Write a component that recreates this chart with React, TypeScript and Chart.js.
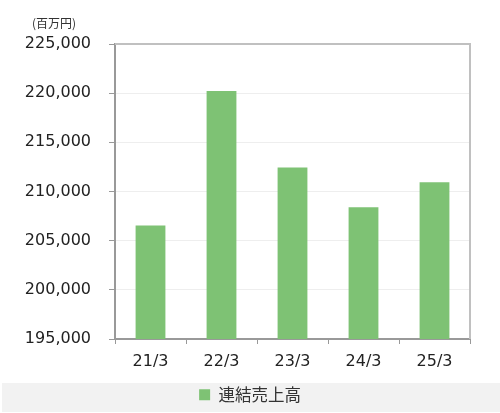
import React, { useEffect, useRef } from "react";
import { Chart, registerables } from "chart.js";

Chart.register(...registerables);

const categories = ["21/3", "22/3", "23/3", "24/3", "25/3"];
const salesValues = [206530, 220230, 212450, 208400, 210950];
const seriesLabel = "連結売上高";
const unitLabel = "(百万円)";
const yMin = 195000;
const yMax = 225000;
const yStep = 5000;

const barColor = "#7EC274";

const framePlugin = {
  id: "frameAndBand",
  beforeDraw(chart: any) {
    const { ctx, legend } = chart;
    if (legend) {
      ctx.save();
      ctx.fillStyle = "#f2f2f2";
      const top = Math.round(legend.top);
      ctx.fillRect(2, top, chart.width - 2, chart.height - 1 - top);
      ctx.restore();
    }
  },
  afterDraw(chart: any) {
    const { ctx, chartArea } = chart;
    ctx.save();
    ctx.strokeStyle = "#c0c0c0";
    ctx.lineWidth = 2;
    ctx.beginPath();
    ctx.moveTo(chartArea.left, chartArea.top);
    ctx.lineTo(chartArea.right, chartArea.top);
    ctx.lineTo(chartArea.right, chartArea.bottom);
    ctx.stroke();
    ctx.restore();
    ctx.save();
    ctx.fillStyle = "#333";
    ctx.font = '12px "Noto Sans CJK JP"';
    ctx.textAlign = "left";
    ctx.textBaseline = "alphabetic";
    const ys = chart.scales.y;
    ctx.fillText(unitLabel, ys.left + 32, chartArea.top - 16);
    ctx.restore();
  },
};

export default function App() {
  const ref = useRef<HTMLCanvasElement | null>(null);
  useEffect(() => {
    document.body.style.margin = "0";
    if (!ref.current) return;
    const chart = new Chart(ref.current, {
      type: "bar",
      data: {
        labels: categories,
        datasets: [
          {
            label: seriesLabel,
            data: salesValues,
            backgroundColor: barColor,
            borderWidth: 0,
            barPercentage: 0.42,
            categoryPercentage: 1,
          },
        ],
      },
      options: {
        animation: false,
        responsive: false,
        layout: { padding: { top: 44, right: 0, left: 0, bottom: 0 } },
        plugins: {
          tooltip: { enabled: false },
          legend: {
            position: "bottom",
            labels: {
              boxWidth: 11,
              boxHeight: 11,
              padding: 4,
              color: "#333",
              font: { family: '"Noto Sans CJK JP"', size: 16.5 },
            },
          },
        },
        scales: {
          x: {
            offset: true,
            grid: {
              display: true,
              drawOnChartArea: false,
              tickLength: 5,
              tickColor: "#999",
              offset: true,
            },
            border: { color: "#999", width: 2 },
            ticks: {
              color: "#222",
              padding: 8,
              font: { family: '"DejaVu Sans"', size: 16 },
            },
            afterFit: (s: any) => {
              s.height = 43.5;
            },
          },
          y: {
            min: yMin,
            max: yMax,
            grid: { color: "#eeeeee", tickLength: 6, tickColor: "#999" },
            border: { color: "#999", width: 2 },
            ticks: {
              stepSize: yStep,
              color: "#222",
              padding: 18,
              font: { family: '"DejaVu Sans"', size: 16 },
              callback: (v: any) => Number(v).toLocaleString("en-US"),
            },
            afterFit: (s: any) => {
              s.width = 115;
            },
          },
          yRight: {
            type: "linear",
            position: "right",
            display: true,
            grid: { drawOnChartArea: false, drawTicks: false },
            border: { display: false },
            ticks: { display: false },
            afterFit: (s: any) => {
              s.width = 30;
            },
          },
        },
      },
      plugins: [framePlugin],
    });
    return () => chart.destroy();
  }, []);
  return (
    <div style={{ position: "absolute", left: 0, top: 0, width: 500, height: 413 }}>
      <canvas ref={ref} width={500} height={413} />
    </div>
  );
}
